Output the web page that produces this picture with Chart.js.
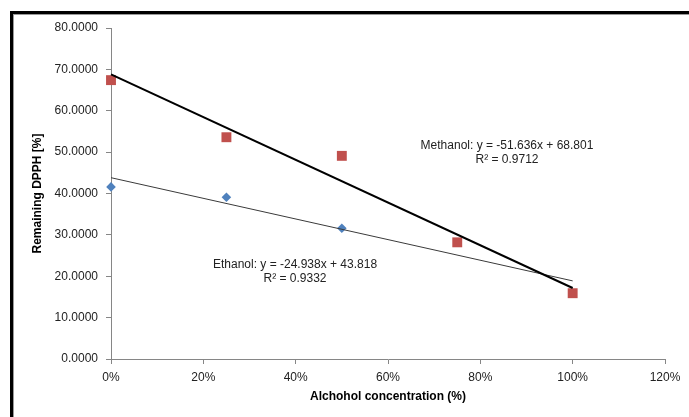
<!DOCTYPE html>
<html>
<head>
<meta charset="utf-8">
<title>Remaining DPPH vs alcohol concentration</title>
<script src="https://cdn.jsdelivr.net/npm/chart.js@4.4.1/dist/chart.umd.min.js"></script>
<style>
  html, body { margin: 0; padding: 0; background: #fff; overflow: hidden; }
  #wrap { position: relative; width: 689px; height: 417px; }
  /* outer chart frame, runs off the right and bottom edges */
  #frame {
    position: absolute; left: 10px; top: 11px;
    width: 760px; height: 480px;
    border: 3px solid #000;
    box-shadow: inset 1px 1px 0 #9a9a9a;
  }
  #chart { position: absolute; left: 0; top: 0; }
</style>
</head>
<body>
<div id="wrap">
  <div id="frame"></div>
  <canvas id="chart" width="689" height="417"></canvas>
</div>
<script>
// measured points (fraction of alcohol, remaining DPPH %)
const methanolConc = [0, 0.25, 0.5, 0.75, 1.0];
const methanolDPPH = [67.4, 53.6, 49.1, 28.2, 15.9];
const ethanolConc = [0, 0.25, 0.5];
const ethanolDPPH = [41.6, 39.1, 31.6];

// linear trendlines as reported on the chart
const fitNames = ['Methanol', 'Ethanol'];
const fitSlopes = [-51.636, -24.938];
const fitIntercepts = [68.801, 43.818];
const fitR2 = ['0.9712', '0.9332'];
const fitRange = [0, 1];

const yTicks = [0, 10, 20, 30, 40, 50, 60, 70, 80];
const xTicks = [0, 0.2, 0.4, 0.6, 0.8, 1.0, 1.2];

const FONT = '"Liberation Sans", Arial, sans-serif';
Chart.defaults.font.family = FONT;
Chart.defaults.font.size = 12;
Chart.defaults.color = '#222';

const toPoints = (xs, ys) => xs.map((x, i) => ({ x: x, y: ys[i] }));
const fitLine = i => fitRange.map(x => ({ x: x, y: fitSlopes[i] * x + fitIntercepts[i] }));

// equation + R² text next to each trendline
const labelSpots = [
  { x: 507, y: 146 },
  { x: 295, y: 265 }
];
const trendLabels = {
  id: 'trendLabels',
  afterDatasetsDraw(chart) {
    const ctx = chart.ctx;
    ctx.save();
    ctx.font = '12px ' + FONT;
    ctx.fillStyle = '#222';
    ctx.textAlign = 'center';
    ctx.textBaseline = 'middle';
    fitNames.forEach((name, i) => {
      const p = labelSpots[i];
      const eq = name + ': y = ' + fitSlopes[i] + 'x + ' + fitIntercepts[i];
      ctx.fillText(eq, p.x, p.y);
      ctx.fillText('R\u00B2 = ' + fitR2[i], p.x, p.y + 14);
    });
    ctx.restore();
  }
};

const axisGrid = {
  display: true,
  drawOnChartArea: false,
  drawTicks: true,
  tickLength: 5,
  color: '#868686'
};

new Chart(document.getElementById('chart'), {
  type: 'scatter',
  data: {
    datasets: [
      {
        label: 'Methanol trend',
        type: 'line',
        data: fitLine(0),
        borderColor: '#000',
        borderWidth: 2,
        pointRadius: 0,
        fill: false,
        clip: false,
        order: 0
      },
      {
        label: 'Ethanol trend',
        type: 'line',
        data: fitLine(1),
        borderColor: '#3a3a3a',
        borderWidth: 1,
        pointRadius: 0,
        fill: false,
        clip: false,
        order: 0
      },
      {
        label: 'Methanol',
        data: toPoints(methanolConc, methanolDPPH),
        pointStyle: 'rect',
        pointRadius: 7,
        backgroundColor: '#C0504D',
        borderColor: '#C0504D',
        borderWidth: 0,
        clip: false,
        order: 1
      },
      {
        label: 'Ethanol',
        data: toPoints(ethanolConc, ethanolDPPH),
        pointStyle: 'rectRot',
        pointRadius: 4.8,
        backgroundColor: '#4F81BD',
        borderColor: '#4F81BD',
        borderWidth: 0,
        clip: false,
        order: 1
      }
    ]
  },
  options: {
    responsive: false,
    animation: false,
    layout: { padding: { left: 30, right: 24, top: 28, bottom: 0 } },
    plugins: {
      legend: { display: false },
      tooltip: { enabled: false }
    },
    scales: {
      x: {
        type: 'linear',
        min: xTicks[0],
        max: xTicks[xTicks.length - 1],
        afterBuildTicks: s => { s.ticks = xTicks.map(v => ({ value: v })); },
        afterFit: s => { s.height = 58; },
        grid: axisGrid,
        border: { display: true, color: '#868686', width: 1 },
        ticks: {
          padding: 6,
          color: '#222',
          callback: v => Math.round(v * 100) + '%'
        },
        title: {
          display: true,
          text: 'Alchohol concentration (%)',
          font: { weight: 'bold', size: 12 },
          color: '#000',
          padding: { top: 0, bottom: 13 }
        }
      },
      y: {
        type: 'linear',
        min: yTicks[0],
        max: yTicks[yTicks.length - 1],
        afterBuildTicks: s => { s.ticks = yTicks.map(v => ({ value: v })); },
        afterFit: s => { s.width = 81; },
        grid: axisGrid,
        border: { display: true, color: '#868686', width: 1 },
        ticks: {
          padding: 8,
          color: '#222',
          callback: v => v.toFixed(4)
        },
        title: {
          display: true,
          text: 'Remaining DPPH [%]',
          font: { weight: 'bold', size: 12 },
          color: '#000',
          padding: 0
        }
      }
    }
  },
  plugins: [trendLabels]
});
</script>
</body>
</html>
